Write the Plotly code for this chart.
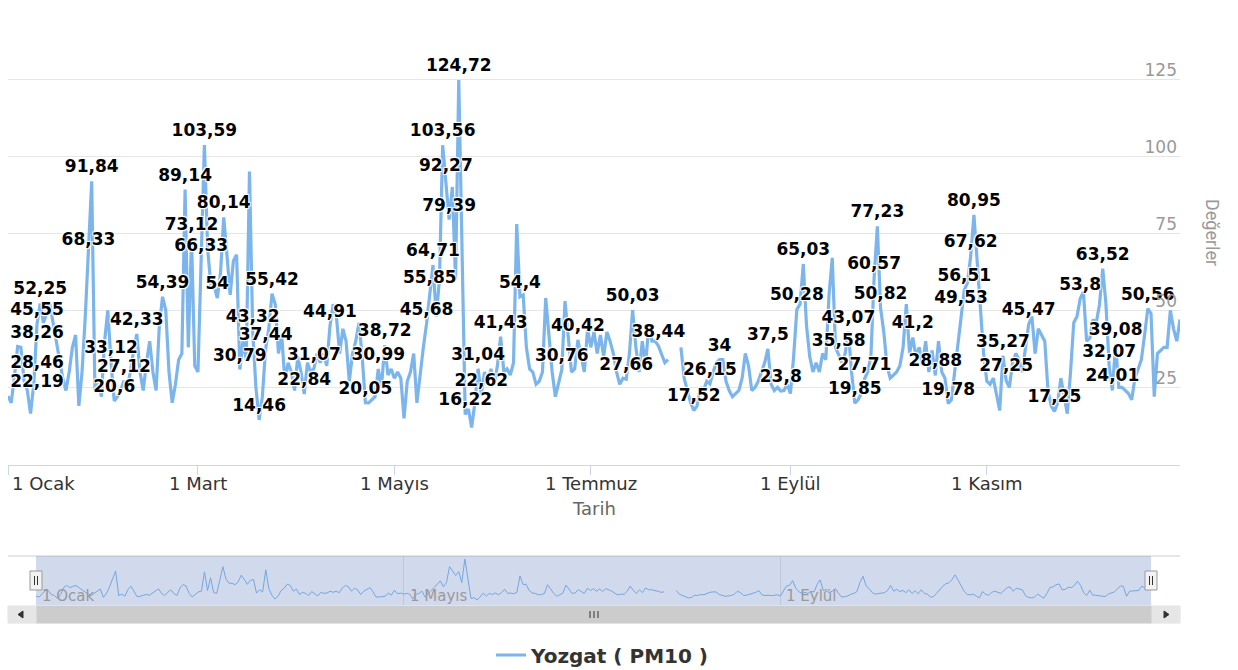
import plotly.graph_objects as go
import pandas as pd

# ---------------- data (daily PM10, 2019) ----------------
values = [
    22.19, 20, 28.46, 38.26, 38, 27, 24, 16.5, 26, 45.55,
    52.25, 46, 49, 52, 46, 40, 33, 28, 24, 30,
    38, 42, 19, 30, 48, 68.33, 91.84, 24, 28, 22,
    40, 50, 33.12, 20.6, 22, 24, 27.12, 25, 30, 37,
    42.33, 30, 24, 33, 40, 30, 24, 45, 54.39, 50,
    30, 20, 26, 34, 36, 89.14, 38, 73.12, 32, 30,
    66.33, 103.59, 70, 58, 58, 54, 62, 80.14, 68, 55,
    66, 68, 30.79, 40, 34, 95, 43.32, 25, 14.46, 22,
    37.44, 44, 55.42, 52, 36, 42, 27, 33, 30, 24,
    35, 30, 22.84, 33, 30, 31.07, 36, 33, 36, 32,
    44.91, 52, 48, 36, 44, 40, 27, 36, 40, 46,
    35, 20.05, 20, 21, 22, 30.99, 25, 38.72, 29, 31,
    28, 30, 28, 15, 27, 30, 36, 20, 30, 38,
    45.68, 55.85, 64.71, 48, 60, 103.56, 92.27, 79.39, 90, 60,
    124.72, 70, 16.22, 18, 12, 20, 31.04, 22.62, 30, 27,
    31, 26, 32, 41.43, 30, 31, 29, 33, 78, 54.4,
    55, 38, 31, 30, 26, 27, 30, 54, 42, 30,
    22, 27, 30.76, 53, 41, 30, 31, 40.42, 35, 30,
    44, 38, 43, 36, 42, 35, 43, 40, 36, 30,
    26, 28, 27.66, 36, 50.03, 38, 30, 40, 32, 45,
    40, 40, 38.44, 36, 33, 34, None, None, None, 38,
    28, 24, 20, 17.52, 19, 25, 24, 27, 26.15, 30,
    33, 34, 34, 27, 24, 22, 23, 24, 28, 36,
    32, 24, 25, 27, 30, 33, 37.5, 26, 24, 25,
    23.8, 24, 26, 23, 35, 50.28, 52, 65.03, 45, 35,
    30, 33, 30, 36, 34, 55, 67, 38, 35.58, 33,
    36, 43.07, 30, 19.85, 21, 23, 27.71, 30, 35, 60.57,
    77.23, 50.82, 43, 32, 28, 29, 30, 32, 38, 52,
    36, 41.2, 35, 38, 32, 40, 30, 37, 28.88, 40,
    30, 28, 19.78, 21, 30, 40, 49.53, 56.51, 59, 67.62,
    80.95, 67, 53, 36, 27, 26, 28, 23, 17.5, 35.27,
    27.25, 25, 33, 36, 34, 30, 38, 45.47, 48, 36,
    44, 42, 40, 24, 19, 17.25, 20, 28, 22, 16.5,
    30, 46, 48, 53.8, 56, 40, 41, 47, 46, 52,
    63.52, 52, 32.07, 24.01, 39.08, 25, 25, 24, 23, 21,
    28, 31, 34, 42, 50.56, 49, 22, 36, 37, 38,
    38, 50, 44, 40, 47,
]

# days (0 = 1 Ocak) whose value label is visible in the chart
label_days = [0, 2, 3, 9, 10, 25, 26, 32, 33, 36, 40, 48, 55, 57, 60, 61, 65, 67,
              72, 76, 78, 80, 82, 92, 95, 100, 111, 115, 117, 130, 131, 132, 135,
              136, 137, 140, 142, 146, 147, 153, 159, 172, 177, 192, 194, 202, 213,
              218, 221, 236, 240, 245, 247, 258, 261, 263, 266, 269, 270, 271, 281,
              288, 292, 296, 297, 299, 300, 309, 310, 317, 325, 333, 340, 342, 343,
              344, 354]

start_date = "2019-01-01"
main_ticks = ["2019-01-01", "2019-03-01", "2019-05-01", "2019-07-01", "2019-09-01", "2019-11-01"]
main_tick_text = ["1 Ocak", "1 Mart", "1 Mayıs", "1 Temmuz", "1 Eylül", "1 Kasım"]
nav_ticks = ["2019-01-01", "2019-05-01", "2019-09-01"]
nav_tick_text = ["1 Ocak", "1 Mayıs", "1 Eylül"]
y_ticks = [0, 25, 50, 75, 100, 125, 150]
y_tick_text = ["0", "25", "50", "75", "100", "125", ""]
series_name = "Yozgat ( PM10 )"
x_title = "Tarih"
y_title = "Değerler"

# ---------------- geometry helpers ----------------
W, H = 1238, 670
ML, MR, MT, MB = 8, 58, 2, 0
PW, PH = W - ML - MR, H - MT - MB


def px_x(px):
    return (px - ML) / PW


def px_y(py):
    return (H - MB - py) / PH


dates = pd.date_range(start_date, periods=len(values), freq="D")
n_days = (dates[-1] - dates[0]).days
px_per_day = PW / n_days

LINE = "#7cb5ec"
LABEL_SIZE = 17


def fmt(v):
    return f"{v:g}".replace(".", ",")


# label positions: centred on the point, but justified inside the plot area
lab_x, lab_y, lab_t = [], [], []
for d in label_days:
    v = values[d]
    t = fmt(v)
    w = (sum(0.38 if c == "," else 0.70 for c in t)) * LABEL_SIZE
    min_day = (w / 2 + 2) / px_per_day
    max_day = n_days - (w / 2 + 2) / px_per_day
    cd = min(max(d, min_day), max_day)
    lab_x.append(dates[0] + pd.Timedelta(days=cd))
    lab_y.append(v)
    lab_t.append(t)

fig = go.Figure()

fig.add_trace(go.Scatter(
    x=dates, y=values, mode="lines", name=series_name,
    line=dict(color=LINE, width=3.2), connectgaps=False,
))
fig.add_trace(go.Scatter(
    x=lab_x, y=lab_y, mode="markers+text", text=lab_t,
    textposition="top center", showlegend=False, cliponaxis=False,
    marker=dict(size=6, opacity=0),
    textfont=dict(family="DejaVu Sans", size=LABEL_SIZE, color="#000000", weight="bold",
                  shadow="1px 1px 1px #fff, -1px -1px 1px #fff, 1px -1px 1px #fff, -1px 1px 1px #fff"),
    hoverinfo="skip",
))
# navigator series
fig.add_trace(go.Scatter(
    x=dates, y=values, mode="lines", xaxis="x2", yaxis="y2", showlegend=False,
    line=dict(color=LINE, width=1), connectgaps=False, hoverinfo="skip",
))

shapes = []
# navigator outline
shapes.append(dict(type="line", xref="paper", yref="paper", x0=px_x(8), x1=px_x(1180),
                   y0=px_y(556), y1=px_y(556), line=dict(color="#cccccc", width=1)))
# navigator mask
shapes.append(dict(type="rect", xref="x2 domain", yref="paper", x0=0, x1=1,
                   y0=px_y(605), y1=px_y(556), fillcolor="rgba(102,133,194,0.3)",
                   line=dict(width=0), layer="above"))
# scrollbar track, thumb, buttons
shapes.append(dict(type="rect", xref="paper", yref="paper", x0=px_x(8), x1=px_x(1180),
                   y0=px_y(623), y1=px_y(606), fillcolor="#f2f2f2", line=dict(color="#f2f2f2", width=1)))
shapes.append(dict(type="rect", xref="paper", yref="paper", x0=px_x(36), x1=px_x(1152),
                   y0=px_y(623), y1=px_y(606), fillcolor="#cccccc", line=dict(color="#cccccc", width=1)))
for bx0, bx1 in [(8, 36), (1152, 1180)]:
    shapes.append(dict(type="rect", xref="paper", yref="paper", x0=px_x(bx0), x1=px_x(bx1),
                       y0=px_y(623), y1=px_y(606), fillcolor="#e6e6e6", line=dict(color="#e6e6e6", width=1)))
# arrows
la = f"M {px_x(23)} {px_y(611)} L {px_x(18)} {px_y(614.5)} L {px_x(23)} {px_y(618)} Z"
ra = f"M {px_x(1164)} {px_y(611)} L {px_x(1169)} {px_y(614.5)} L {px_x(1164)} {px_y(618)} Z"
for p in (la, ra):
    shapes.append(dict(type="path", xref="paper", yref="paper", path=p,
                       fillcolor="#333333", line=dict(color="#333333", width=1)))
# grip
for gx in (590, 594, 598):
    shapes.append(dict(type="line", xref="paper", yref="paper", x0=px_x(gx), x1=px_x(gx),
                       y0=px_y(611), y1=px_y(618), line=dict(color="#333333", width=1)))
# navigator handles
for hx in (36, 1151):
    shapes.append(dict(type="rect", xref="paper", yref="paper", x0=px_x(hx - 6), x1=px_x(hx + 6),
                       y0=px_y(590), y1=px_y(571), fillcolor="#f2f2f2",
                       line=dict(color="#999999", width=1), layer="above"))
    for lx in (hx - 1.5, hx + 1.5):
        shapes.append(dict(type="line", xref="paper", yref="paper", x0=px_x(lx), x1=px_x(lx),
                           y0=px_y(576), y1=px_y(585), line=dict(color="#333333", width=1),
                           layer="above"))

annotations = []
for i, (tv, tt) in enumerate(zip(main_ticks, main_tick_text)):
    annotations.append(dict(x=tv, xref="x", y=px_y(483), yref="paper", text=tt, showarrow=False,
                            xanchor="left" if i == 0 else "center", xshift=2 if i == 0 else 0,
                            yanchor="middle",
                            font=dict(family="DejaVu Sans", size=18, color="#333333")))
for tv, tt in zip(nav_ticks, nav_tick_text):
    annotations.append(dict(x=tv, xref="x2", y=px_y(596), yref="paper", text=tt, showarrow=False,
                            xanchor="left", xshift=4, yanchor="middle",
                            font=dict(family="DejaVu Sans", size=15, color="#999999")))
annotations.append(dict(x=px_x(594), xref="paper", y=px_y(508), yref="paper", text=x_title,
                        showarrow=False, xanchor="center", yanchor="middle",
                        font=dict(family="DejaVu Sans", size=18, color="#666666")))
annotations.append(dict(x=px_x(1213), xref="paper", y=px_y(232), yref="paper", text=y_title,
                        showarrow=False, textangle=90, xanchor="center", yanchor="middle",
                        font=dict(family="Roboto", size=18, color="#999999")))

fig.update_layout(
    width=W, height=H,
    margin=dict(l=ML, r=MR, t=MT, b=MB, autoexpand=False),
    paper_bgcolor="white", plot_bgcolor="white",
    showlegend=True,
    legend=dict(orientation="h", x=px_x(491), xanchor="left", y=px_y(655), yanchor="middle",
                font=dict(family="DejaVu Sans", size=20, color="#333333", weight="bold"),
                bgcolor="rgba(0,0,0,0)"),
    xaxis=dict(domain=[0, 1], range=[dates[0], dates[-1]], showgrid=False, zeroline=False,
               showline=True, linecolor="#ccd6eb", linewidth=1,
               tickvals=main_ticks, ticks="outside", ticklen=9, tickcolor="#ccd6eb",
               showticklabels=False, anchor="y"),
    yaxis=dict(domain=[px_y(464.5), 1], range=[0, 150], side="right",
               tickvals=y_ticks, ticktext=y_tick_text, gridcolor="#e6e6e6", gridwidth=1,
               zeroline=False, showline=False, ticks="",
               ticklabelposition="inside", ticklabelshift=-9,
               tickfont=dict(family="DejaVu Sans", size=17, color="#999999"), anchor="x"),
    xaxis2=dict(domain=[px_x(36), px_x(1151)], range=[dates[0], dates[-1]], anchor="y2",
                showgrid=True, gridcolor="#e6e6e6", tickvals=nav_ticks, showticklabels=False,
                zeroline=False, showline=False, ticks=""),
    yaxis2=dict(domain=[px_y(605), px_y(556)], range=[-2, 133], visible=False, anchor="x2"),
    shapes=shapes,
    annotations=annotations,
)

fig.write_html("out.html", config={"displayModeBar": False},
               post_script="document.body.style.margin='0px';document.body.style.overflow='hidden';")
